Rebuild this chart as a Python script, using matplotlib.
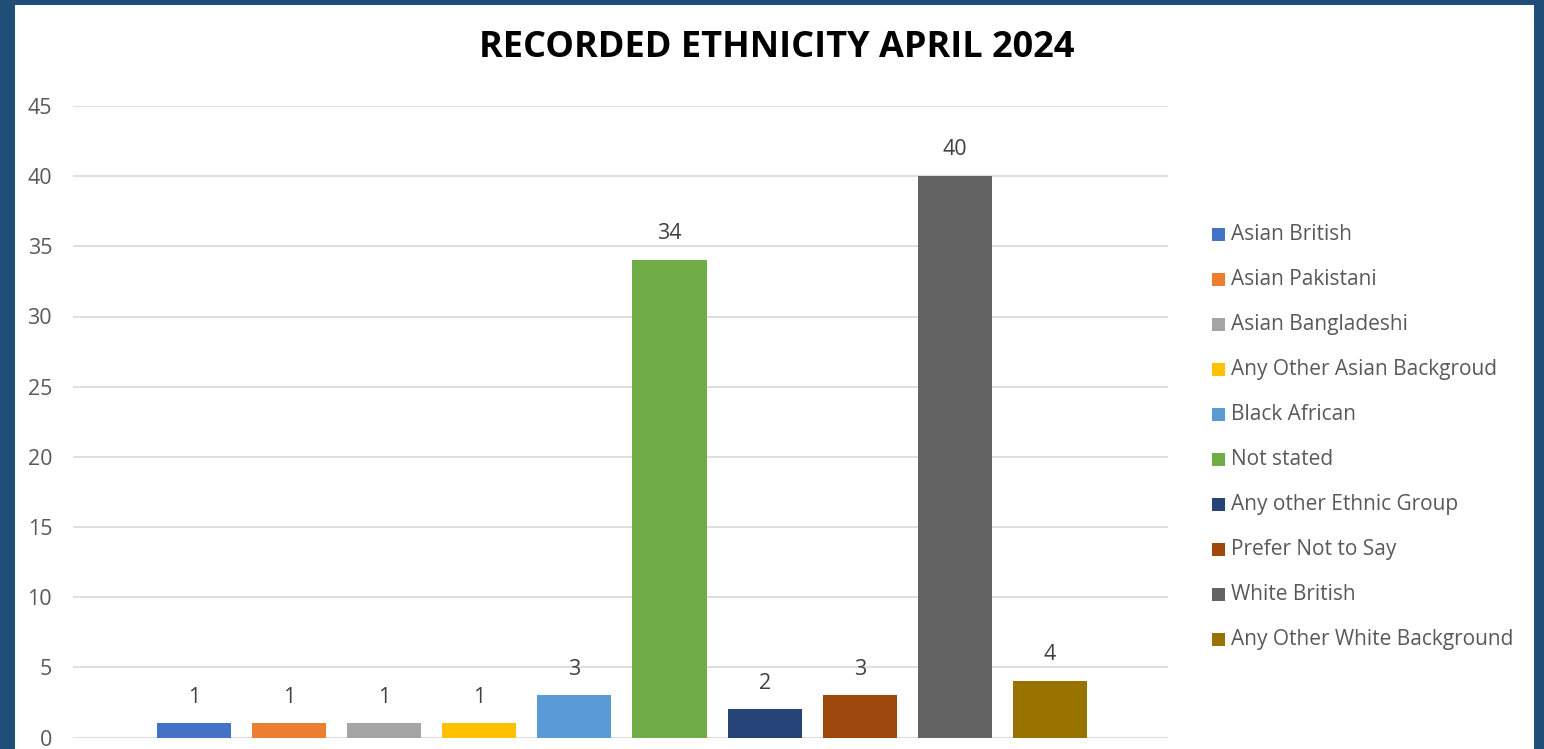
import matplotlib
matplotlib.use("Agg")
import matplotlib.pyplot as plt
from matplotlib.patches import Rectangle

categories = ["Asian British", "Asian Pakistani", "Asian Bangladeshi",
              "Any Other Asian Backgroud", "Black African", "Not stated",
              "Any other Ethnic Group", "Prefer Not to Say", "White British",
              "Any Other White Background"]
values = [1, 1, 1, 1, 3, 34, 2, 3, 40, 4]
colors = ["#4472C4", "#ED7D31", "#A5A5A5", "#FFC000", "#5B9BD5",
          "#70AD47", "#264478", "#9E480E", "#636363", "#997300"]
yticks = [0, 5, 10, 15, 20, 25, 30, 35, 40, 45]
title = "RECORDED ETHNICITY APRIL 2024"

plt.rcParams['font.family'] = ['Open Sans', 'DejaVu Sans']

W, H = 1544, 749
fig = plt.figure(figsize=(W / 100, H / 100), dpi=100)
fig.patch.set_facecolor("#1F4E79")
bg = fig.add_axes([15 / W, 0, 1519 / W, 744 / H], zorder=0)
bg.set_facecolor("white")
bg.set_xticks([]); bg.set_yticks([])
for s in bg.spines.values():
    s.set_visible(False)

ax_left, ax_right = 73, 1168
y0_px, y45_px = 737.5, 106
ax = fig.add_axes([ax_left / W, (H - y0_px) / H, (ax_right - ax_left) / W, (y0_px - y45_px) / H],
                  zorder=2)
ax.set_facecolor("none")

x = list(range(len(categories)))
ax.bar(x, values, width=0.78, color=colors, zorder=3)
for xi, v in zip(x, values):
    ax.annotate(str(v), (xi, v), xytext=(0, 19), textcoords="offset points",
                ha="center", va="center", fontsize=15.5, color="#404040")

spacing = 95.1
c0 = 194
ax.set_xlim((ax_left - c0) / spacing, (ax_right - c0) / spacing)
ax.set_ylim(0, 45)
ax.set_yticks(yticks)
ax.set_yticklabels([str(t) for t in yticks], fontsize=15.5, color="#595959")
ax.set_xticks([])
ax.tick_params(axis="y", length=0, pad=15)
ax.grid(axis="y", color="#D9D9D9", linewidth=1.2, zorder=0)
ax.set_axisbelow(True)
for s in ax.spines.values():
    s.set_visible(False)

fig.text(777 / W, 1 - 48 / H, title, ha="center", va="center",
         fontsize=26, fontweight="bold", color="#000000", zorder=5)

# legend
lx, ly0, dy, sq = 1212, 234, 45.1, 13
for i, (lab, col) in enumerate(zip(categories, colors)):
    yc = ly0 + i * dy
    fig.patches.append(Rectangle((lx / W, 1 - (yc + sq / 2) / H), sq / W, sq / H,
                                 transform=fig.transFigure, facecolor=col, edgecolor="none",
                                 zorder=5))
    fig.text((lx + 19) / W, 1 - yc / H, lab, ha="left", va="center",
             fontsize=15, color="#595959", zorder=5)

fig.savefig("out.png", dpi=100, facecolor=fig.get_facecolor())
